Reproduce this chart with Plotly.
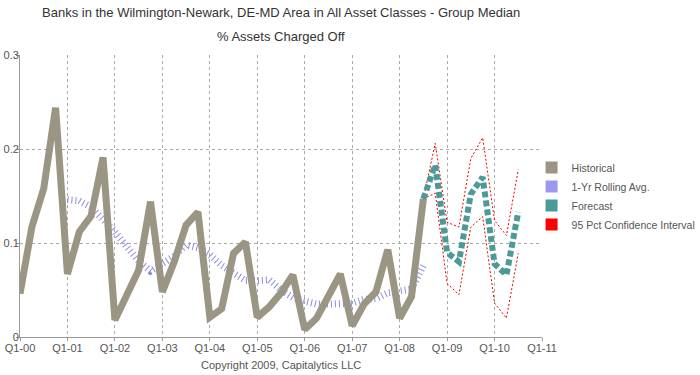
import plotly.graph_objects as go

# ---- data ----
hist_quarters = [f"Q{q}-{y:02d}" for y in range(0, 9) for q in range(1, 5)][:35]
hist_values = [0.046, 0.117, 0.158, 0.244,
               0.067, 0.112, 0.129, 0.191,
               0.018, 0.045, 0.071, 0.144,
               0.048, 0.080, 0.119, 0.133,
               0.021, 0.030, 0.089, 0.101,
               0.021, 0.032, 0.047, 0.066,
               0.008, 0.020, 0.045, 0.067,
               0.012, 0.035, 0.048, 0.093,
               0.020, 0.043, 0.147]

roll_quarters = hist_quarters[4:]
roll_values = [0.146, 0.145, 0.138, 0.125,
               0.112, 0.096, 0.081, 0.070,
               0.077, 0.086, 0.098, 0.095,
               0.088, 0.076, 0.068, 0.060,
               0.060, 0.061, 0.050, 0.042,
               0.038, 0.035, 0.035, 0.035,
               0.036, 0.040, 0.041, 0.047,
               0.049, 0.051, 0.076]

fc_quarters = ["Q3-08", "Q4-08", "Q1-09", "Q2-09", "Q3-09", "Q4-09", "Q1-10", "Q2-10", "Q3-10"]
fc_values = [0.147, 0.183, 0.090, 0.080, 0.152, 0.170, 0.078, 0.066, 0.133]
ci_upper = [0.147, 0.206, 0.122, 0.117, 0.190, 0.212, 0.124, 0.108, 0.178]
ci_lower = [0.147, 0.153, 0.057, 0.045, 0.117, 0.128, 0.036, 0.020, 0.089]

tick_labels = [f"Q1-{y:02d}" for y in range(0, 12)]
y_ticks = [0, 0.1, 0.2, 0.3]
y_tick_labels = ["0", "0.1", "0.2", "0.3"]


def qpos(label):
    q = int(label[1])
    yr = int(label[3:])
    return 2000 + yr + (q - 1) / 4


HIST_C = "#9b9584"
ROLL_C = "#8c8ce0"
FC_C = "#4b9a98"
CI_C = "#ee0000"
FONT = "Liberation Sans, Arial, sans-serif"

fig = go.Figure()

fig.add_trace(go.Scatter(x=[qpos(q) for q in roll_quarters], y=roll_values, mode="lines",
                         line=dict(color=ROLL_C, width=7, dash="1px,3px"), showlegend=False, hoverinfo="skip"))
fig.add_trace(go.Scatter(x=[qpos(q) for q in hist_quarters], y=hist_values, mode="lines",
                         line=dict(color=HIST_C, width=7), showlegend=False, hoverinfo="skip"))
fig.add_trace(go.Scatter(x=[qpos(q) for q in fc_quarters], y=ci_upper, mode="lines",
                         line=dict(color=CI_C, width=1, dash="2px,2px"), showlegend=False, hoverinfo="skip"))
fig.add_trace(go.Scatter(x=[qpos(q) for q in fc_quarters], y=ci_lower, mode="lines",
                         line=dict(color=CI_C, width=1, dash="2px,2px"), showlegend=False, hoverinfo="skip"))
fig.add_trace(go.Scatter(x=[qpos(q) for q in fc_quarters], y=fc_values, mode="lines",
                         line=dict(color=FC_C, width=6, dash="6px,3px"), showlegend=False, hoverinfo="skip"))

# legend entries (square swatches)
for name, col in [("Historical", HIST_C), ("1-Yr Rolling Avg.", "#9a9aec"),
                  ("Forecast", FC_C), ("95 Pct Confidence Interval", "#ff0000")]:
    fig.add_trace(go.Scatter(x=[None], y=[None], mode="markers", name=name,
                             marker=dict(symbol="square", size=12, color=col)))

fig.update_layout(
    width=700, height=375,
    margin=dict(l=20, r=158, t=55, b=38, autoexpand=False),
    paper_bgcolor="white", plot_bgcolor="white",
    font=dict(family=FONT, size=11, color="#555555"),
    legend=dict(x=0.980, y=0.5, xanchor="left", yanchor="middle",
                font=dict(size=10.5, color="#555555"), itemsizing="trace",
                tracegroupgap=0, bgcolor="rgba(0,0,0,0)"),
    xaxis=dict(range=[2000, 2011], tickvals=list(range(2000, 2012)), ticktext=tick_labels,
               showgrid=True, gridcolor="#aaaaaa", griddash="dot", gridwidth=1,
               showline=True, linecolor="#999999", linewidth=1,
               ticks="outside", ticklen=3, tickcolor="#999999", ticklabelstandoff=-2,
               zeroline=False, fixedrange=True, automargin=False),
    yaxis=dict(range=[0, 0.3], tickvals=y_ticks, ticktext=y_tick_labels,
               showgrid=True, gridcolor="#aaaaaa", griddash="dot", gridwidth=1,
               showline=True, linecolor="#999999", linewidth=1,
               ticks="outside", ticklen=3, tickcolor="#999999", ticklabelstandoff=-5,
               zeroline=False, fixedrange=True, automargin=False),
    annotations=[
        dict(text="Banks in the Wilmington-Newark, DE-MD Area in All Asset Classes - Group Median",
             x=0.5, y=1.149, xref="paper", yref="paper", xanchor="center", yanchor="middle",
             showarrow=False, font=dict(size=13, color="#333333")),
        dict(text="% Assets Charged Off",
             x=0.5, y=1.064, xref="paper", yref="paper", xanchor="center", yanchor="middle",
             showarrow=False, font=dict(size=13, color="#333333")),
        dict(text="Copyright 2009, Capitalytics LLC",
             x=0.5, y=-0.099, xref="paper", yref="paper", xanchor="center", yanchor="middle",
             showarrow=False, font=dict(size=11, color="#555555")),
    ],
)

# remove the browser's default 8px page margin so the 700x375 figure fills the window
fig.write_html("out.html", config={"displayModeBar": False},
               post_script="document.body.style.margin='0';document.body.style.overflow='hidden';")
